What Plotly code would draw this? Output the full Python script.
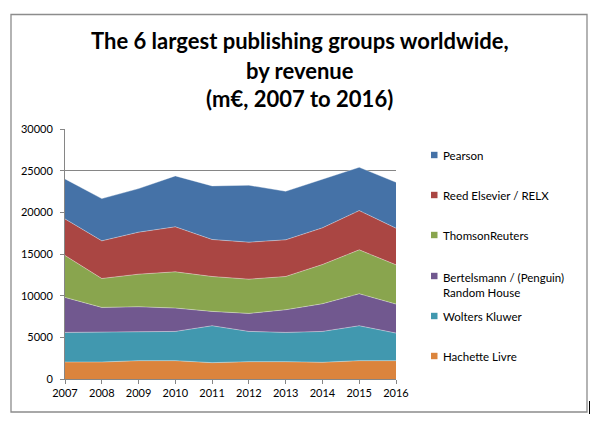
import plotly.graph_objects as go

years = [2007, 2008, 2009, 2010, 2011, 2012, 2013, 2014, 2015, 2016]
series_names = ["Hachette Livre", "Wolters Kluwer", "Bertelsmann / (Penguin) Random House",
                "ThomsonReuters", "Reed Elsevier / RELX", "Pearson"]
hachette = [2040, 2040, 2200, 2200, 1960, 2080, 2080, 2000, 2200, 2200]
wolters = [3550, 3550, 3470, 3510, 4430, 3630, 3510, 3710, 4190, 3310]
bertelsmann = [4200, 3000, 3000, 2800, 1720, 2160, 2720, 3320, 3840, 3480]
thomson = [5030, 3470, 3910, 4350, 4190, 4110, 3990, 4710, 5270, 4710]
reed = [4390, 4520, 5040, 5400, 4440, 4440, 4400, 4400, 4710, 4400]
pearson = [4800, 5070, 5230, 6110, 6430, 6830, 5830, 5830, 5200, 5510]
values = [hachette, wolters, bertelsmann, thomson, reed, pearson]
colors = ["#DB843D", "#4198AF", "#71588F", "#89A54E", "#AA4643", "#4572A7"]
legend_labels = ["Pearson", "Reed Elsevier / RELX", "ThomsonReuters",
                 "Bertelsmann / (Penguin)<br>Random House", "Wolters Kluwer", "Hachette Livre"]
legend_colors = ["#4572A7", "#AA4643", "#89A54E", "#71588F", "#4198AF", "#DB843D"]
title_lines = ["The 6 largest publishing groups worldwide,", "by revenue", "(m€, 2007 to 2016)"]

# page body has an 8px margin; figure coordinates = screen coordinates - OFF
OFF = 8
W, H = 612 - OFF, 428 - OFF
L, R, T, B = 65 - OFF, 396 - OFF, 129 - OFF, 379 - OFF
FONT = "Lato"

def px(x):
    # x given in screen pixels
    return (x - OFF - L) / (R - L)

def py(y):
    return (B - (y - OFF)) / (B - T)

fig = go.Figure()
for name, vals, col in zip(series_names, values, colors):
    fig.add_trace(go.Scatter(
        x=years, y=vals, name=name, stackgroup="one", mode="lines",
        line=dict(width=0.8, color="rgba(255,255,255,0.45)"),
        fillcolor=col, showlegend=False, hoverinfo="x+y+name"))

annotations = []
shapes = []
# title
for txt, yc in zip(title_lines, [41, 70, 98.5]):
    annotations.append(dict(text="<b>" + txt + "</b>", x=px(299.5), y=py(yc), xref="paper", yref="paper",
                            xanchor="center", yanchor="middle", showarrow=False,
                            font=dict(family=FONT, size=22, color="#000000")))
# legend
leg_y = [155, 195, 235, 276, 316, 356]
for lab, col, yc in zip(legend_labels, legend_colors, leg_y):
    shapes.append(dict(type="rect", xref="paper", yref="paper",
                       x0=px(431), x1=px(437.5), y0=py(yc + 3.2), y1=py(yc - 3.2),
                       fillcolor=col, line=dict(width=0)))
    multi = "<br>" in lab
    annotations.append(dict(text=lab, x=px(441), y=py(yc - 7.5) if multi else py(yc), xref="paper", yref="paper",
                            xanchor="left", yanchor="top" if multi else "middle", align="left",
                            showarrow=False, font=dict(family=FONT, size=11.5, color="#000000")))
# frame
shapes.append(dict(type="rect", xref="paper", yref="paper",
                   x0=px(11), x1=px(587), y0=py(412), y1=py(14.5),
                   line=dict(color="#8c8c8c", width=1.3), fillcolor="rgba(0,0,0,0)", layer="below"))
# cursor mark
shapes.append(dict(type="line", xref="paper", yref="paper",
                   x0=px(589.5), x1=px(589.5), y0=py(414), y1=py(401),
                   line=dict(color="#000000", width=1)))

fig.update_layout(
    width=W, height=H,
    margin=dict(l=L, r=W - R, t=T, b=H - B, pad=0),
    paper_bgcolor="white", plot_bgcolor="white",
    showlegend=False,
    annotations=annotations, shapes=shapes,
    font=dict(family=FONT, size=11, color="#000000"),
    xaxis=dict(range=[2007, 2016], tickmode="array", tickvals=years, ticktext=[str(y) for y in years],
               showgrid=False, showline=True, linecolor="#868686", linewidth=1,
               ticks="outside", ticklen=4, tickcolor="#868686", zeroline=False,
               tickfont=dict(family=FONT, size=11, color="#000000")),
    yaxis=dict(range=[0, 30000], dtick=5000, tickformat="d",
               showgrid=True, gridcolor="#868686", gridwidth=1,
               showline=True, linecolor="#868686", linewidth=1,
               ticks="outside", ticklen=4, tickcolor="#868686", zeroline=False,
               ticklabelstandoff=5,
               tickfont=dict(family=FONT, size=11, color="#000000")),
)

fig.write_html("out.html")
